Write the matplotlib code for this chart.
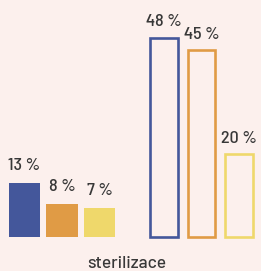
import matplotlib.pyplot as plt

# data
values_filled = [13, 8, 7]
values_outline = [48, 45, 20]
labels_filled = ['13 %', '8 %', '7 %']
labels_outline = ['48 %', '45 %', '20 %']
colors = ['#44579b', '#e09b45', '#efd86b']
category = 'sterilizace'

pos_filled = [0, 1, 2]
pos_outline = [3.72, 4.72, 5.72]

bg = '#fcf0ed'
text_color = '#383838'
num_font = ['Barlow Semi Condensed', 'DejaVu Sans']
cat_font = ['Barlow', 'DejaVu Sans']

fig = plt.figure(figsize=(2.61, 2.71), dpi=100, facecolor=bg)
ax = fig.add_axes([0, 0, 1, 1])
ax.set_facecolor(bg)

ax.bar(pos_filled, values_filled, width=0.83, color=colors, linewidth=0)
ax.bar(pos_outline, values_outline, width=0.73, facecolor='none',
       edgecolor=colors, linewidth=1.9)

for x, v, lab in zip(pos_filled, values_filled, labels_filled):
    ax.annotate(lab, (x, v), xytext=(0, 7), textcoords='offset points',
                ha='center', va='bottom', fontsize=13, color=text_color,
                family=num_font, weight='medium')
for x, v, lab in zip(pos_outline, values_outline, labels_outline):
    ax.annotate(lab, (x, v), xytext=(0, 6), textcoords='offset points',
                ha='center', va='bottom', fontsize=13, color=text_color,
                family=num_font, weight='medium')

fig.text(127 / 261, 1 - 263 / 271, category, ha='center', va='center',
         fontsize=12.5, color=text_color, family=cat_font, weight='medium')

ax.set_xlim(-0.653, 6.307)
ax.set_ylim(-8.19, 57.1)
ax.axis('off')

fig.savefig('out.png', dpi=100, facecolor=bg)
